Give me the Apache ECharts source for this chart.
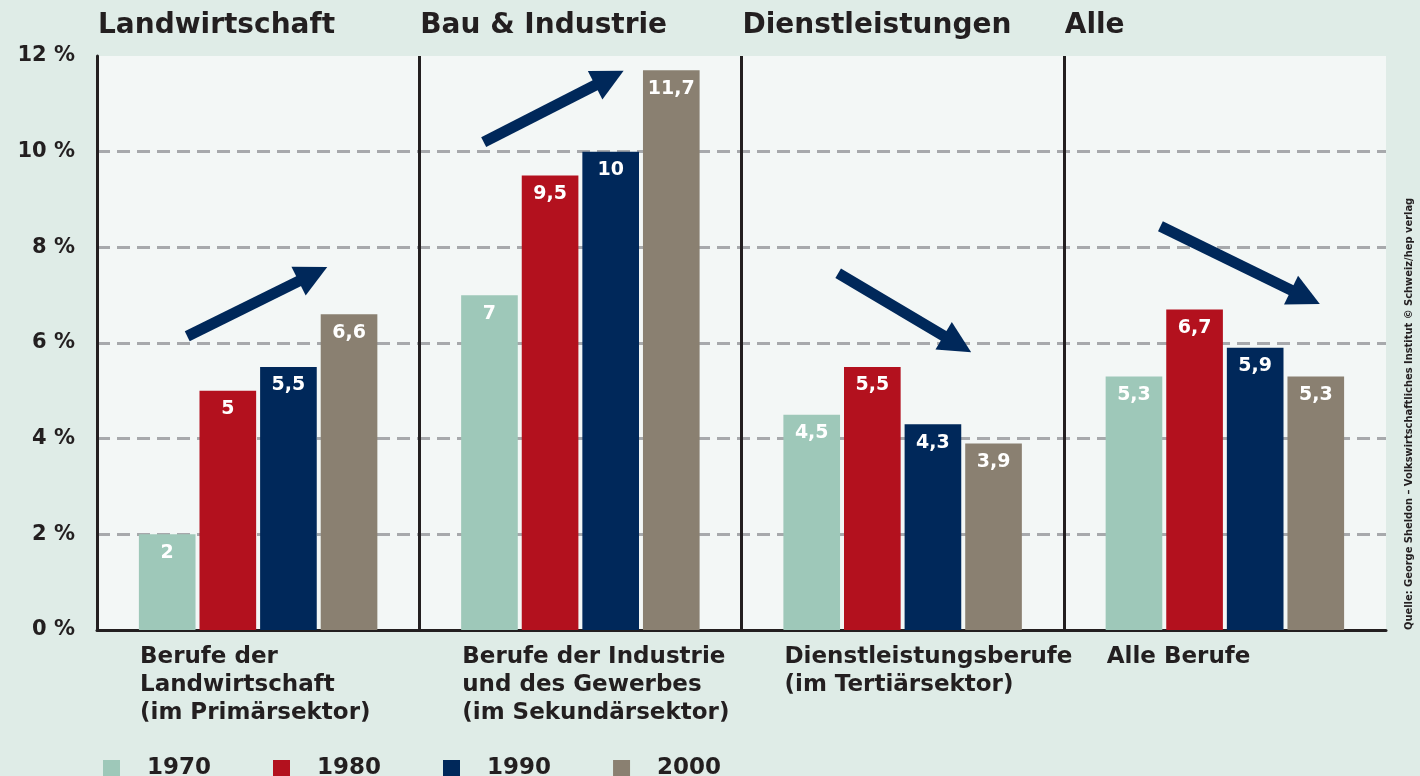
<!DOCTYPE html>
<html>
<head>
<meta charset="utf-8">
<script src="https://cdn.jsdelivr.net/npm/echarts@6/dist/echarts.min.js"></script>
<style>
  html, body { margin: 0; padding: 0; }
  #main { width: 1420px; height: 776px; }
</style>
</head>
<body>
<div id="main"></div>
<script>
// Daten
var sektoren = ['Landwirtschaft', 'Bau & Industrie', 'Dienstleistungen', 'Alle'];
var berufe = [
    'Berufe der\nLandwirtschaft\n(im Primärsektor)',
    'Berufe der Industrie\nund des Gewerbes\n(im Sekundärsektor)',
    'Dienstleistungsberufe\n(im Tertiärsektor)',
    'Alle Berufe'
];
var jahre = ['1970', '1980', '1990', '2000'];
var werte1970 = [2, 7, 4.5, 5.3];
var werte1980 = [5, 9.5, 5.5, 6.7];
var werte1990 = [5.5, 10, 4.3, 5.9];
var werte2000 = [6.6, 11.7, 3.9, 5.3];
var yTicks = [0, 2, 4, 6, 8, 10, 12];
// Pfeile (Trend) in Achsenkoordinaten: [x von, y von, x bis, y bis]
var pfeile = [
    [0.28, 6.14, 0.67, 7.44],
    [1.20, 10.2, 1.59, 11.54],
    [2.30, 7.46, 2.67, 5.98],
    [3.30, 8.44, 3.75, 6.96]
];

var farben = ['#9ec8b9', '#b3111e', '#00285a', '#8a8071'];
var dunkel = '#231f20';
var schrift = 'DejaVu Sans';

var myChart = echarts.init(document.getElementById('main'));

function balken(name, data, i) {
    return {
        name: name,
        type: 'bar',
        xAxisIndex: 0,
        yAxisIndex: 0,
        barCategoryGap: '26%',
        barGap: '7%',
        itemStyle: { color: farben[i] },
        label: {
            show: true,
            position: 'insideTop',
            distance: 9,
            color: '#fff',
            fontFamily: schrift,
            fontWeight: 'bold',
            fontSize: 19,
            formatter: function (p) { return String(p.value).replace('.', ','); }
        },
        data: data
    };
}

var option = {
    backgroundColor: '#dfece7',
    animation: false,
    color: farben,
    grid: {
        left: 97, right: 34, top: 56, bottom: 146,
        outerBoundsMode: 'none',
        containLabel: false,
        show: true,
        backgroundColor: '#f3f7f6',
        borderWidth: 0
    },
    legend: {
        data: jahre,
        left: 103,
        top: 757,
        padding: 0,
        icon: 'rect',
        itemWidth: 17,
        itemHeight: 17,
        itemGap: 62,
        textStyle: {
            color: dunkel, fontFamily: schrift, fontWeight: 'bold', fontSize: 23,
            padding: [0, 0, 0, 22]
        }
    },
    xAxis: [{
        type: 'category',
        data: sektoren,
        position: 'bottom',
        axisLine: { lineStyle: { color: dunkel, width: 3 } },
        axisTick: { show: false },
        axisLabel: { show: false },
        splitLine: {
            show: true,
            showMinLine: false,
            showMaxLine: false,
            lineStyle: { color: dunkel, width: 3 }
        }
    }, {
        type: 'category',
        boundaryGap: false,
        data: berufe.concat(['']),
        position: 'bottom',
        axisLine: { show: false },
        axisTick: { show: false },
        splitLine: { show: false },
        axisLabel: {
            interval: 0,
            align: 'left',
            verticalAlign: 'top',
            margin: 13,
            lineHeight: 28,
            padding: [0, 0, 0, 43],
            color: dunkel,
            fontFamily: schrift,
            fontWeight: 'bold',
            fontSize: 23
        }
    }, {
        type: 'category',
        boundaryGap: false,
        data: sektoren.concat(['']),
        position: 'top',
        axisLine: { show: false },
        axisTick: { show: false },
        splitLine: { show: false },
        axisLabel: {
            interval: 0,
            align: 'left',
            verticalAlign: 'middle',
            margin: 30,
            padding: [0, 0, 0, 1],
            color: dunkel,
            fontFamily: schrift,
            fontWeight: 'bold',
            fontSize: 28
        }
    }, {
        type: 'value',
        min: 0,
        max: 4,
        show: false
    }],
    yAxis: [{
        type: 'value',
        min: yTicks[0],
        max: yTicks[yTicks.length - 1],
        interval: 2,
        axisLine: { show: true, lineStyle: { color: dunkel, width: 3 } },
        axisTick: { show: false },
        axisLabel: {
            margin: 22,
            formatter: '{value} %',
            color: dunkel,
            fontFamily: schrift,
            fontWeight: 'bold',
            fontSize: 21
        },
        splitLine: {
            show: true,
            showMaxLine: false,
            lineStyle: { color: '#a7a9ac', width: 3, type: [13, 7] }
        }
    }],
    series: [
        balken(jahre[0], werte1970, 0),
        balken(jahre[1], werte1980, 1),
        balken(jahre[2], werte1990, 2),
        balken(jahre[3], werte2000, 3),
        {
            name: 'Pfeile',
            type: 'lines',
            coordinateSystem: 'cartesian2d',
            xAxisIndex: 3,
            yAxisIndex: 0,
            symbol: ['none', 'triangle'],
            symbolSize: [34, 32],
            lineStyle: { color: '#00285a', width: 11, opacity: 1 },
            data: pfeile.map(function (p) {
                return { coords: [[p[0], p[1]], [p[2], p[3]]] };
            }),
            z: 5
        }
    ],
    graphic: [{
        type: 'text',
        x: 1409,
        y: 630,
        rotation: Math.PI / 2,
        style: {
            text: 'Quelle: George Sheldon – Volkswirtschaftliches Institut © Schweiz/hep verlag',
            fill: dunkel,
            font: 'bold 11px "DejaVu Sans Condensed"',
            textAlign: 'left',
            textVerticalAlign: 'middle'
        }
    }]
};

myChart.setOption(option);
</script>
</body>
</html>
